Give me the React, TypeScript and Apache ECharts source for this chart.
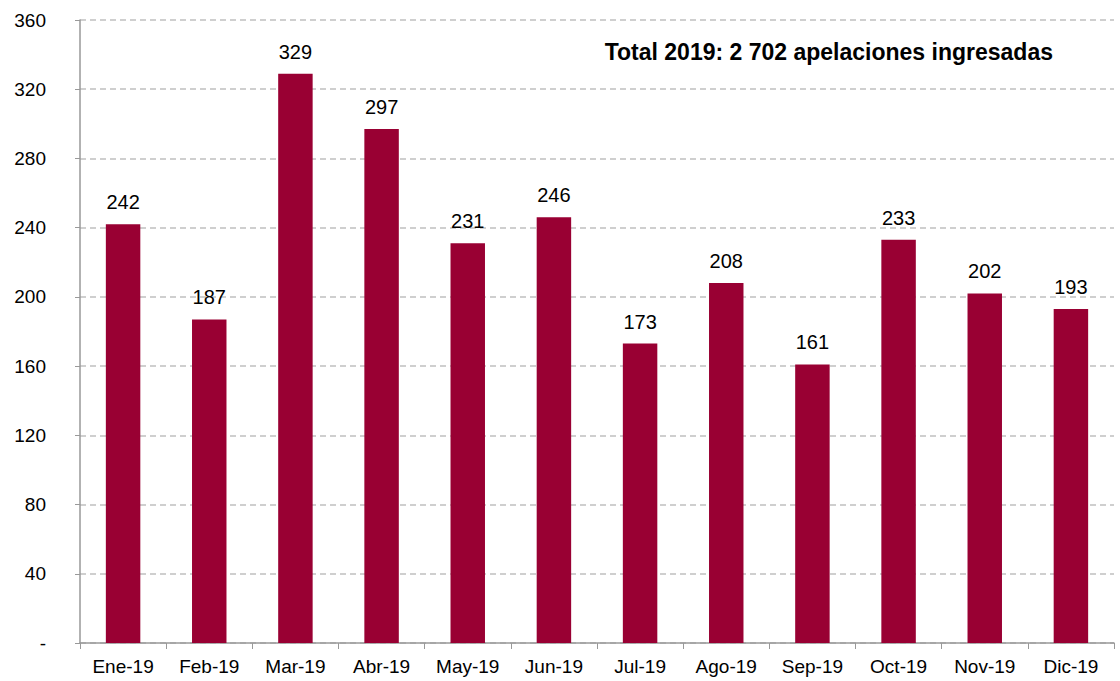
import React, { useEffect, useRef } from "react";
import * as echarts from "echarts";

const categories = ["Ene-19", "Feb-19", "Mar-19", "Abr-19", "May-19", "Jun-19", "Jul-19", "Ago-19", "Sep-19", "Oct-19", "Nov-19", "Dic-19"];
const values = [242, 187, 329, 297, 231, 246, 173, 208, 161, 233, 202, 193];
const titleText = "Total 2019: 2 702 apelaciones ingresadas";

export default function App() {
  const ref = useRef<HTMLDivElement>(null);
  useEffect(() => {
    if (!ref.current) return;
    const chart = echarts.init(ref.current, null, { renderer: "svg" });
    const font = "Arial, 'Liberation Sans', sans-serif";
    chart.setOption({
      animation: false,
      backgroundColor: "#ffffff",
      title: {
        text: titleText,
        right: 62,
        top: 35,
        textStyle: { fontFamily: font, fontSize: 23, fontWeight: "bold", color: "#000" },
      },
      grid: { left: 80, right: 6, top: 20, bottom: 38, containLabel: false },
      xAxis: {
        type: "category",
        data: categories,
        axisLine: { lineStyle: { color: "#999999", width: 1.5 } },
        axisTick: { show: true, alignWithLabel: false, length: 6, lineStyle: { color: "#999999" } },
        axisLabel: { color: "#000", fontFamily: font, fontSize: 19, margin: 14 },
      },
      yAxis: {
        type: "value",
        min: 0,
        max: 360,
        interval: 40,
        axisLine: { show: true, lineStyle: { color: "#999999", width: 1.5 } },
        axisTick: { show: true, length: 5, lineStyle: { color: "#999999" } },
        axisLabel: {
          color: "#000",
          fontFamily: font,
          fontSize: 19,
          margin: 34,
          formatter: (v: number) => (v === 0 ? "-" : String(v)),
        },
        splitLine: { show: true, lineStyle: { color: "#c0c0c0", type: [6, 4], width: 1.5 } },
      },
      series: [
        {
          type: "bar",
          data: values,
          barWidth: "40%",
          itemStyle: { color: "#990033" },
          label: {
            show: true,
            position: "top",
            distance: 12,
            color: "#000",
            fontFamily: font,
            fontSize: 20,
          },
        },
      ],
    });
    return () => chart.dispose();
  }, []);
  return <div ref={ref} style={{ position: "fixed", left: 0, top: 0, width: 1120, height: 681 }} />;
}
